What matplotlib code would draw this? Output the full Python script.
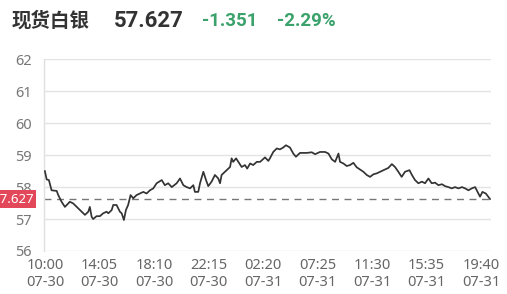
import matplotlib
matplotlib.use("Agg")
import matplotlib.pyplot as plt
from matplotlib.transforms import blended_transform_factory, offset_copy

# ---- data ----
title = "现货白银"
last_price = 57.627
change = "-1.351"
change_pct = "-2.29%"
prev_ref = 57.627

minutes = [0, 8, 18, 30, 53, 60, 75, 90, 98, 112, 127, 143, 157, 180, 195, 202, 210, 217, 232, 247,
           262, 277, 285, 300, 307, 322, 337, 345, 355, 364, 374, 385, 397, 412, 427, 442, 457, 472, 487, 502,
           525, 539, 554, 570, 592, 607, 622, 637, 652, 667, 674, 689, 697, 712, 724, 734, 749, 764, 779, 787,
           794, 809, 824, 832, 839, 846, 859, 869, 884, 899, 909, 922, 936, 952, 967, 981, 989, 1004, 1011, 1026,
           1042, 1056, 1071, 1083, 1101, 1116, 1128, 1146, 1176, 1199, 1214, 1236, 1259, 1274, 1289, 1304, 1319, 1326, 1341, 1356,
           1371, 1386, 1401, 1416, 1431, 1446, 1461, 1476, 1491, 1506, 1528, 1543, 1559, 1573, 1588, 1603, 1618, 1638, 1649, 1663,
           1678, 1694, 1708, 1723, 1738, 1753, 1768, 1784, 1798, 1813, 1828, 1843, 1858, 1874, 1888, 1903, 1918, 1933, 1944, 1955,
           1966, 1981, 2000]
prices = [58.50, 58.24, 58.22, 57.90, 57.88, 57.75, 57.54, 57.38, 57.44, 57.54, 57.49, 57.38, 57.28, 57.13, 57.23, 57.38, 57.07, 57.00, 57.09, 57.09,
          57.18, 57.23, 57.18, 57.28, 57.44, 57.44, 57.23, 57.18, 56.97, 57.28, 57.44, 57.75, 57.65, 57.75, 57.80, 57.85, 57.80, 57.90, 57.96, 58.12,
          58.22, 58.06, 58.12, 58.00, 58.12, 58.27, 58.06, 58.00, 57.96, 58.06, 57.85, 57.85, 58.12, 58.48, 58.22, 58.03, 58.17, 58.38, 58.27, 58.12,
          58.38, 58.48, 58.58, 58.63, 58.90, 58.79, 58.90, 58.79, 58.63, 58.69, 58.58, 58.74, 58.69, 58.79, 58.79, 58.88, 58.93, 58.82, 58.90, 59.10,
          59.21, 59.18, 59.24, 59.31, 59.24, 59.05, 58.95, 59.07, 59.07, 59.09, 59.03, 59.10, 59.10, 59.05, 58.87, 58.79, 59.05, 58.79, 58.74, 58.66,
          58.69, 58.76, 58.62, 58.55, 58.48, 58.38, 58.32, 58.40, 58.43, 58.48, 58.55, 58.60, 58.72, 58.63, 58.48, 58.32, 58.48, 58.53, 58.38, 58.22,
          58.12, 58.17, 58.12, 58.27, 58.12, 58.14, 58.06, 58.09, 58.03, 58.00, 57.96, 58.00, 57.96, 58.00, 57.96, 57.90, 57.96, 58.00, 57.85, 57.70,
          57.85, 57.80, 57.627]

tick_minutes = [0, 245, 490, 735, 980, 1225, 1470, 1715, 1960]
tick_labels = ["10:00\n07-30", "14:05\n07-30", "18:10\n07-30", "22:15\n07-30", "02:20\n07-31",
               "07:25\n07-31", "11:30\n07-31", "15:35\n07-31", "19:40\n07-31"]
y_ticks = [56, 57, 58, 59, 60, 61, 62]

# ---- figure ----
W, H = 507, 294
fig = plt.figure(figsize=(W / 100, H / 100), dpi=100)
ax = fig.add_axes([44 / W, 1 - 251 / H, (490.7 - 44) / W, (251 - 59.3) / H])

ax.set_xlim(-4, 2003)
ax.set_ylim(56, 62)
for v in y_ticks:
    ax.axhline(v, color="#e3e3e3", lw=1.0, zorder=0)

for s in ["top", "right", "bottom"]:
    ax.spines[s].set_visible(False)
ax.spines["left"].set_color("#e0e0e0")
ax.spines["left"].set_linewidth(1.0)

ax.plot(minutes, prices, color="#333333", lw=1.25, zorder=3)
ax.axhline(prev_ref, color="#777777", lw=1.0, dashes=(5, 4), zorder=2)

ax.set_yticks(y_ticks)
ax.set_yticklabels([str(v) for v in y_ticks], fontsize=10.5, color="#777777", family=["Noto Sans", "DejaVu Sans"])
ax.set_xticks(tick_minutes)
ax.set_xticklabels(tick_labels, fontsize=10.5, color="#666666", family=["Noto Sans", "DejaVu Sans"],
                   linespacing=1.2)
ax.tick_params(axis="y", length=0, pad=9)
ax.tick_params(axis="x", length=0, pad=5)

# red price tag
tr = blended_transform_factory(ax.transAxes, ax.transData)
tr = offset_copy(tr, fig=fig, x=-10, y=0, units="dots")
ax.text(0, prev_ref, "57.627", transform=tr, ha="right", va="center",
        fontsize=9.5, color="white", family=["Noto Sans", "DejaVu Sans"], clip_on=False,
        bbox=dict(boxstyle="square,pad=0.18", facecolor="#e2485a", edgecolor="none"))
# header
fig.text(12 / W, 1 - 21 / H, title, fontsize=14, fontweight="bold", color="#333333",
         family=["Noto Sans CJK SC", "DejaVu Sans"], va="center", ha="left")
fig.text(114 / W, 1 - 21 / H, "57.627", fontsize=16, fontweight="bold", color="#333333",
         family=["Roboto", "DejaVu Sans"], va="center", ha="left")
fig.text(202 / W, 1 - 21 / H, change, fontsize=13.5, fontweight="bold", color="#3ba26c",
         family=["Roboto", "DejaVu Sans"], va="center", ha="left")
fig.text(277 / W, 1 - 21 / H, change_pct, fontsize=13.5, fontweight="bold", color="#3ba26c",
         family=["Roboto", "DejaVu Sans"], va="center", ha="left")

fig.savefig("out.png", dpi=100, facecolor="white")
